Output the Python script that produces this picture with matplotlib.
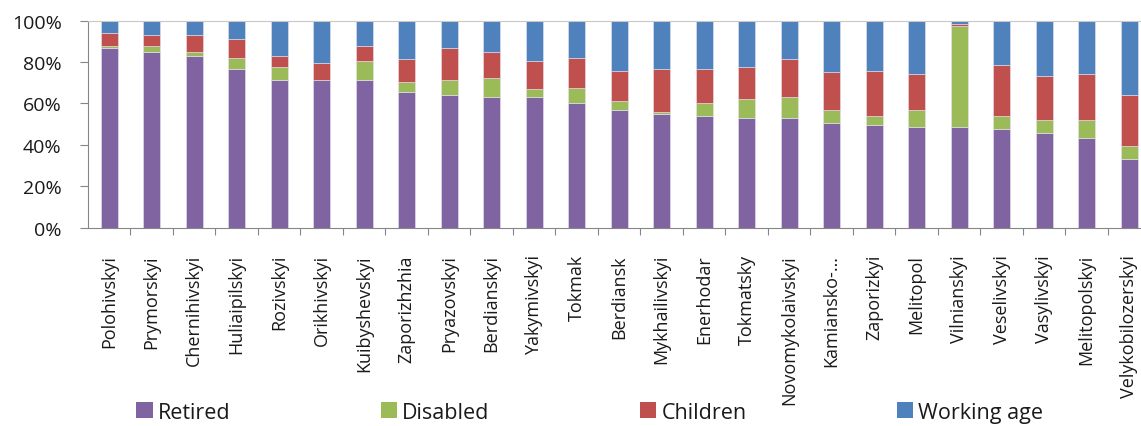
import numpy as np
import matplotlib.pyplot as plt
from matplotlib.patches import Patch
from matplotlib.ticker import FixedLocator, PercentFormatter

plt.rcParams['font.family'] = ['Open Sans', 'DejaVu Sans']

# Districts of Zaporizhzhia oblast, share of each group (%)
districts = [
    "Polohivskyi", "Prymorskyi", "Chernihivskyi", "Huliaipilskyi", "Rozivskyi",
    "Orikhivskyi", "Kuibyshevskyi", "Zaporizhzhia", "Pryazovskyi", "Berdianskyi",
    "Yakymivskyi", "Tokmak", "Berdiansk", "Mykhailivskyi", "Enerhodar",
    "Tokmatsky", "Novomykolaivskyi", "Kamiansko-\u2026", "Zaporizkyi", "Melitopol",
    "Vilnianskyi", "Veselivskyi", "Vasylivskyi", "Melitopolskyi", "Velykobilozerskyi",
]
retired = [86.6, 85.0, 83.1, 76.8, 71.3, 71.3, 71.3, 65.7, 63.9, 63.1,
           63.1, 60.4, 56.7, 54.9, 54.1, 53.1, 53.1, 50.4, 49.4, 48.6,
           48.6, 47.7, 45.9, 43.2, 33.2]
disabled = [1.0, 2.6, 1.9, 5.3, 6.3, 0.2, 9.2, 4.7, 7.3, 9.0,
            3.7, 7.2, 4.7, 1.0, 6.3, 9.1, 10.0, 6.3, 4.7, 8.1,
            49.0, 6.4, 6.3, 9.0, 6.4]
children = [6.4, 5.5, 8.2, 9.2, 5.5, 8.0, 7.1, 10.9, 15.4, 12.8,
            13.6, 14.5, 14.4, 20.9, 16.4, 15.4, 18.2, 18.3, 21.7, 17.4,
            0.8, 24.5, 20.9, 21.9, 24.5]
working = [100 - r - d - c for r, d, c in zip(retired, disabled, children)]

series = [
    ("Retired", retired, "#8064A2"),
    ("Disabled", disabled, "#9BBB59"),
    ("Children", children, "#C0504D"),
    ("Working age", working, "#4F81BD"),
]

fig = plt.figure(figsize=(11.41, 4.27), dpi=100)
ax = fig.add_axes([0.0771, 0.4644, 0.9312, 0.4848])

x = np.arange(len(districts))
bottom = np.zeros(len(districts))
for name, vals, color in series:
    vals = np.array(vals)
    ax.bar(x, vals, bottom=bottom, width=0.4, color=color,
           edgecolor="#e8e4f0", linewidth=0.4, label=name)
    bottom += vals

ax.set_xlim(-0.5, len(districts) - 0.5)
ax.set_ylim(0, 100)

axis_color = "#868686"
ax.spines["right"].set_visible(False)
ax.spines["top"].set_color("#c8c8c8")
ax.spines["left"].set_color(axis_color)
ax.spines["bottom"].set_color(axis_color)

# category ticks sit between bars, labels sit on the bars
ax.xaxis.set_major_locator(FixedLocator(x[:-1] + 0.5))
ax.xaxis.set_minor_locator(FixedLocator(x))
ax.set_xticklabels([], minor=False)
ax.set_xticklabels(districts, minor=True, rotation=90, fontsize=13,
                   color="#1a1a1a", va="top", ha="center")
ax.tick_params(axis="x", which="major", length=5, color=axis_color, direction="out")
ax.tick_params(axis="x", which="minor", length=0, pad=19)

ax.set_yticks(np.arange(0, 101, 20))
ax.yaxis.set_major_formatter(PercentFormatter(decimals=0))
ax.tick_params(axis="y", length=6, color=axis_color, labelsize=14,
               labelcolor="#1a1a1a", pad=13)

handles = [Patch(facecolor=c, edgecolor="none", label=n) for n, _, c in series]
fig.legend(handles=handles, ncol=4, loc="lower left",
           bbox_to_anchor=(0.112, -0.012, 0.81, 0.06), mode="expand",
           frameon=False, fontsize=15.5, handlelength=0.75, handleheight=0.75,
           handletextpad=0.25, borderaxespad=0.0, labelcolor="#1a1a1a")

fig.savefig("out.png", dpi=100)
